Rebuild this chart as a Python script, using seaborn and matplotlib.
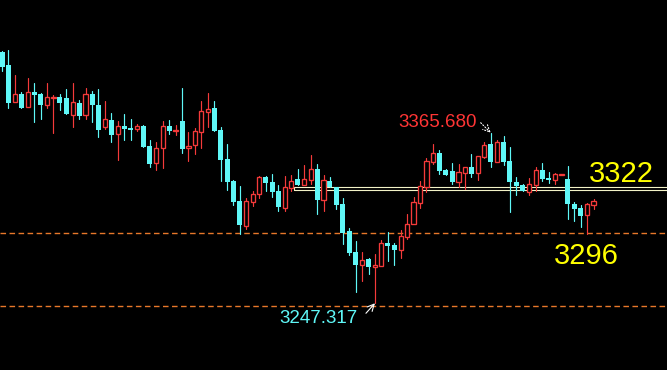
import numpy as np
import pandas as pd
import matplotlib
matplotlib.use("Agg")
import matplotlib.pyplot as plt
import seaborn as sns
from matplotlib.patches import Rectangle

# ---------------- data (price per bar) ----------------
opens = [
    3421.9, 3412.7, 3387.2, 3392.6, 3383.8, 3394.0, 3392.6, 3385.1, 3390.0, 3390.5,
    3389.8, 3378.2, 3386.5, 3377.8, 3392.6, 3385.1, 3369.9, 3374.5, 3364.6, 3370.4,
    3369.0, 3368.1, 3370.4, 3356.5, 3344.5, 3354.9, 3370.4, 3367.1, 3373.8, 3354.9,
    3357.0, 3366.0, 3380.3, 3383.1, 3367.8, 3347.5, 3332.2, 3318.3, 3301.2, 3317.8,
    3323.4, 3335.0, 3331.5, 3325.2, 3313.7, 3327.5, 3333.6, 3329.6, 3333.1, 3340.5,
    3319.2, 3332.2, 3328.0, 3316.2, 3297.5, 3282.9, 3274.1, 3278.1, 3272.3, 3273.4,
    3289.2, 3287.8, 3284.5, 3293.5, 3302.6, 3317.1, 3328.2, 3345.6, 3351.6, 3339.5,
    3339.1, 3331.7, 3338.0, 3341.9, 3337.7, 3348.8, 3357.9, 3345.4, 3359.3, 3346.1,
    3331.5, 3329.4, 3324.6, 3329.4, 3339.8, 3334.3, 3332.9, 3336.6, 3333.6, 3316.2,
    3313.5, 3308.6, 3315.5]
highs = [
    3422.4, 3423.1, 3405.8, 3393.7, 3403.7, 3400.2, 3393.0, 3400.2, 3391.9, 3392.6,
    3396.0, 3400.2, 3388.4, 3396.7, 3394.6, 3396.0, 3387.7, 3379.6, 3373.8, 3378.9,
    3375.2, 3372.0, 3370.8, 3360.6, 3359.3, 3373.8, 3374.5, 3371.0, 3396.9, 3366.4,
    3369.0, 3387.7, 3393.3, 3387.9, 3369.7, 3357.9, 3333.1, 3328.7, 3320.6, 3325.2,
    3335.3, 3335.3, 3337.0, 3329.4, 3335.7, 3336.4, 3340.5, 3343.3, 3350.2, 3344.0,
    3336.4, 3335.0, 3328.3, 3320.6, 3299.6, 3290.5, 3282.9, 3278.4, 3281.5, 3291.2,
    3296.8, 3289.2, 3298.2, 3309.3, 3321.1, 3332.2, 3348.1, 3357.9, 3354.0, 3340.5,
    3344.7, 3344.0, 3342.2, 3350.9, 3349.8, 3359.3, 3365.68, 3360.6, 3363.4, 3355.8,
    3335.0, 3330.1, 3334.3, 3341.9, 3344.7, 3338.4, 3337.7, 3337.0, 3342.6, 3317.6,
    3315.5, 3316.9, 3319.7]
lows = [
    3408.5, 3383.1, 3386.8, 3382.8, 3383.5, 3373.3, 3375.2, 3383.1, 3365.7, 3381.5,
    3378.4, 3369.9, 3375.0, 3375.4, 3373.3, 3362.5, 3368.5, 3359.5, 3347.0, 3360.9,
    3360.9, 3366.7, 3355.7, 3342.1, 3340.0, 3341.4, 3365.0, 3364.3, 3351.8, 3346.3,
    3351.1, 3355.3, 3369.9, 3366.8, 3332.4, 3326.2, 3315.7, 3295.6, 3299.1, 3315.0,
    3320.6, 3325.5, 3321.3, 3311.6, 3311.4, 3325.5, 3329.1, 3329.3, 3330.1, 3309.5,
    3311.4, 3327.7, 3313.0, 3288.7, 3281.0, 3255.4, 3263.0, 3267.9, 3247.317, 3273.1,
    3276.9, 3274.1, 3279.0, 3292.1, 3302.3, 3313.7, 3324.8, 3344.2, 3336.7, 3336.3,
    3330.3, 3327.8, 3326.6, 3335.0, 3332.9, 3348.1, 3341.9, 3345.1, 3343.3, 3310.7,
    3322.5, 3324.9, 3322.5, 3325.2, 3332.2, 3330.8, 3330.1, 3336.6, 3305.8, 3304.4,
    3300.3, 3295.4, 3312.8]
closes = [
    3411.5, 3386.5, 3392.4, 3383.1, 3394.0, 3391.9, 3384.9, 3390.5, 3390.5, 3386.3,
    3378.7, 3387.0, 3377.5, 3392.6, 3385.1, 3367.8, 3375.2, 3364.3, 3370.4, 3368.5,
    3367.8, 3370.4, 3356.0, 3344.2, 3355.1, 3370.4, 3367.1, 3367.6, 3354.6, 3356.3,
    3366.9, 3380.8, 3382.2, 3367.1, 3347.0, 3331.7, 3317.6, 3301.9, 3318.3, 3323.2,
    3335.0, 3331.0, 3324.8, 3314.3, 3328.0, 3332.2, 3329.4, 3333.6, 3340.5, 3319.2,
    3332.9, 3328.0, 3315.7, 3296.3, 3282.4, 3274.1, 3277.4, 3272.7, 3273.9, 3289.2,
    3287.3, 3284.5, 3294.0, 3302.3, 3317.6, 3328.7, 3346.1, 3351.6, 3339.3, 3336.6,
    3331.3, 3338.6, 3341.9, 3337.0, 3349.5, 3357.2, 3345.4, 3359.3, 3345.4, 3331.5,
    3328.7, 3325.2, 3330.1, 3339.8, 3333.6, 3332.9, 3337.0, 3337.0, 3316.2, 3312.8,
    3307.9, 3316.2, 3318.3]

high_label = "3365.680"
low_label = "3247.317"
level_upper_label = "3322"
level_lower_label = "3296"
dashed_levels = [3296.0, 3245.4]
band_low, band_high = 3325.9, 3328.0
band_start = 45.4

# ---------------- styling ----------------
UP = "#f53a3a"
DOWN = "#5ff7f7"
BAND = "#f4f4c8"
DASH = "#e8782a"
YELLOW = "#ffff00"

sns.set_theme(style="dark", rc={"axes.facecolor": "black", "figure.facecolor": "black",
                                "axes.grid": False})
plt.rcParams["font.family"] = ["Liberation Sans", "DejaVu Sans"]

o = np.array(opens); h = np.array(highs); l = np.array(lows); c = np.array(closes)
idx = np.arange(len(o))
up = c >= o
dirs = np.where(up, "up", "down")

fig = plt.figure(figsize=(6.67, 3.70), dpi=100)
ax = fig.add_axes([0, 0, 1, 1])
ax.set_facecolor("black")

# wicks via seaborn
wick = pd.DataFrame({
    "idx": np.r_[idx, idx],
    "price": np.r_[h, l],
    "dir": np.r_[dirs, dirs],
})
sns.lineplot(data=wick, x="idx", y="price", units="idx", estimator=None,
             hue="dir", palette={"up": UP, "down": DOWN}, linewidth=0.85,
             legend=False, ax=ax, zorder=2)

# bodies
lo = np.minimum(o, c)
ht = np.maximum(np.abs(c - o), 0.4)
ax.bar(idx[~up], ht[~up], bottom=lo[~up], width=0.78, color=DOWN,
       linewidth=0, zorder=3)
ax.bar(idx[up], ht[up], bottom=lo[up], width=0.66, facecolor="black",
       edgecolor=UP, linewidth=0.95, zorder=3)

# level lines
for lv in dashed_levels:
    ax.axhline(lv, color=DASH, linewidth=1.0, dashes=(4, 2.5), zorder=1)
ax.add_patch(Rectangle((band_start, band_low), 80, band_high - band_low,
                       fill=False, edgecolor=BAND, linewidth=0.8, zorder=1))

# annotations for marked high / low
ih = highs.index(float(high_label))
il = lows.index(float(low_label))
ax.annotate(high_label, xy=(ih, h[ih]), xytext=(-14, 6), textcoords="offset pixels",
            ha="right", va="baseline", color="#ff3535", fontsize=13.5)
ax.annotate("", xy=(ih, h[ih]), xytext=(-10, 10), textcoords="offset pixels",
            arrowprops=dict(arrowstyle="->", color="white", lw=0.8, linestyle=":",
                            shrinkA=0, shrinkB=0))
ax.annotate(low_label, xy=(il, l[il]), xytext=(-17, -15), textcoords="offset pixels",
            ha="right", va="center", color=DOWN, fontsize=13.5)
ax.annotate("", xy=(il, l[il]), xytext=(-9, -10), textcoords="offset pixels",
            arrowprops=dict(arrowstyle="->", color="white", lw=0.8,
                            shrinkA=0, shrinkB=0))

ax.annotate(level_upper_label, xy=(1, band_high), xycoords=("axes fraction", "data"),
            xytext=(-78, 5), textcoords="offset pixels", ha="left", va="baseline",
            color=YELLOW, fontsize=21)
ax.annotate(level_lower_label, xy=(1, dashed_levels[0]), xycoords=("axes fraction", "data"),
            xytext=(-113, -31), textcoords="offset pixels", ha="left", va="baseline",
            color=YELLOW, fontsize=21)

ax.set_xlim(-0.31, 103.42)
ax.set_ylim(3201.0, 3457.8)
ax.axis("off")

fig.savefig("out.png", dpi=100, facecolor="black")
